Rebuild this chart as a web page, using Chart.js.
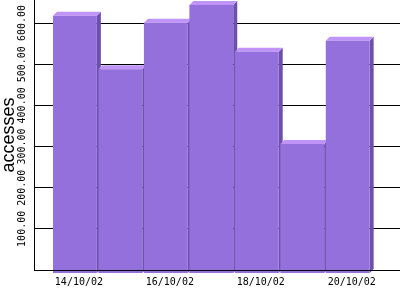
<!DOCTYPE html>
<html>
<head>
<meta charset="utf-8">
<script src="https://cdn.jsdelivr.net/npm/chart.js@4.4.1/dist/chart.umd.min.js"></script>
<style>
html,body{margin:0;padding:0;background:#fff;}
canvas{display:block;}
</style>
</head>
<body>
<canvas id="c" width="400" height="300"></canvas>
<script>
const dates = ['14/10/02','15/10/02','16/10/02','17/10/02','18/10/02','19/10/02','20/10/02'];
const accesses = [618, 488, 601, 644, 530, 306, 557];
const xTickIndex = [0, 2, 4, 6];
const yTicks = [0, 100, 200, 300, 400, 500, 600];

const FRONT = '#9370DB';
const TOP = '#C094F7';
const SIDE = '#6B50AC';
const DEPTH = 4;

const bar3d = {
  id: 'bar3d',
  beforeDatasetsDraw(chart) {
    const ctx = chart.ctx;
    const meta = chart.getDatasetMeta(0);
    ctx.save();
    meta.data.forEach(el => {
      const {x, y, base, width} = el.getProps(['x','y','base','width'], true);
      const l = x - width / 2, r = x + width / 2, t = y, b = base;
      ctx.fillStyle = SIDE;
      ctx.beginPath();
      ctx.moveTo(r, t); ctx.lineTo(r + DEPTH, t - DEPTH);
      ctx.lineTo(r + DEPTH, b - DEPTH); ctx.lineTo(r, b); ctx.closePath();
      ctx.fill();
      ctx.fillStyle = TOP;
      ctx.beginPath();
      ctx.moveTo(l, t); ctx.lineTo(l + DEPTH, t - DEPTH);
      ctx.lineTo(r + DEPTH, t - DEPTH); ctx.lineTo(r, t); ctx.closePath();
      ctx.fill();
    });
    ctx.restore();
  }
};

new Chart(document.getElementById('c'), {
  type: 'bar',
  data: {
    datasets: [{
      data: accesses.map((v, i) => ({x: i, y: v})),
      backgroundColor: FRONT,
      borderWidth: 0,
      barPercentage: 0.965,
      categoryPercentage: 1,
      base: -7,
      clip: false
    }]
  },
  options: {
    responsive: false,
    devicePixelRatio: 1,
    animation: false,
    layout: {padding: 0},
    plugins: {legend: {display: false}, tooltip: {enabled: false}},
    scales: {
      x: {
        type: 'linear',
        min: -0.9,
        max: 7.15,
        offset: false,
        grid: {display: false, drawTicks: false},
        border: {display: true, color: '#000', width: 1, z: 1},
        afterBuildTicks: s => { s.ticks = xTickIndex.map(v => ({value: v})); },
        ticks: {
          autoSkip: false, maxRotation: 0, minRotation: 0,
          labelOffset: 4, padding: 6,
          font: {family: 'DejaVu Sans Mono', size: 10},
          color: '#000',
          callback: v => dates[v]
        },
        afterFit: s => { s.height = 30; s.paddingLeft = 0; s.paddingRight = 0; }
      },
      y: {
        min: 0,
        max: 656,
        afterBuildTicks: s => { s.ticks = yTicks.map(v => ({value: v})); },
        ticks: {
          stepSize: 100,
          includeBounds: false,
          minRotation: 90, maxRotation: 90,
          crossAlign: 'center',
          padding: -6,
          font: {family: 'DejaVu Sans Mono', size: 10},
          color: '#000',
          callback: v => v === 0 ? '' : v.toFixed(2)
        },
        grid: {color: '#000', lineWidth: 1, drawTicks: false},
        border: {display: true, color: '#000', width: 1},
        title: {
          display: true, text: 'accesses', color: '#000',
          font: {family: 'Liberation Sans', size: 18, lineHeight: 1},
          padding: {top: 0, bottom: 0}
        },
        afterFit: s => { s.width = 34; s.paddingTop = 0; s.paddingBottom = 0; }
      }
    }
  },
  plugins: [bar3d]
});
</script>
</body>
</html>
